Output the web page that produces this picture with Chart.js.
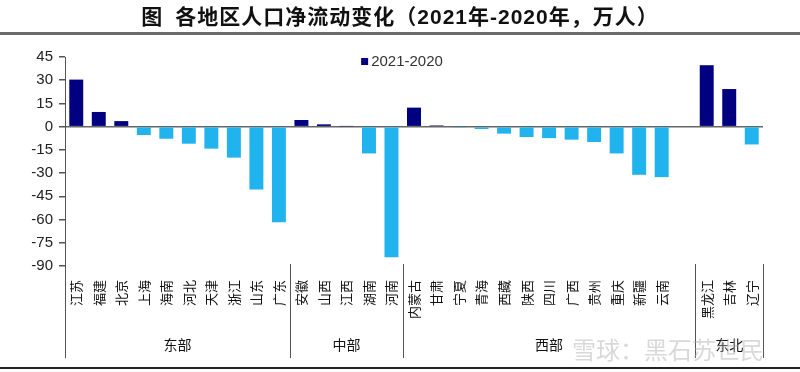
<!DOCTYPE html>
<html>
<head>
<meta charset="utf-8">
<script src="https://cdn.jsdelivr.net/npm/chart.js@4/dist/chart.umd.min.js"></script>
<style>
  html, body { margin: 0; padding: 0; background: #fff; }
  #wrap { position: relative; width: 800px; height: 372px; overflow: hidden; }
  #title {
    position: absolute; left: 0; top: 2px; width: 800px; text-align: center;
    font-family: "Liberation Sans Narrow", "Liberation Sans", "Noto Sans CJK SC", sans-serif;
    font-weight: bold; font-size: 21px; line-height: 26px; color: #111; letter-spacing: 1px;
  }
  #title .cn { font-family: "Noto Sans CJK SC", sans-serif; }
  #title .gap { display: inline-block; width: 12px; }
  #topline { position: absolute; left: 0; top: 32px; width: 800px; height: 3px; background: #6b6b6b; }
  #bottomline { position: absolute; left: 0; top: 367px; width: 800px; height: 2px; background: #222; }
  #mark {
    position: absolute; left: 572px; top: 331px; font-size: 24px;
    font-family: "Noto Sans CJK SC", sans-serif; color: rgba(170,170,170,0.45);
  }
  #box { position: absolute; left: 0; top: 0; width: 800px; height: 372px; }
</style>
</head>
<body>
<div id="wrap">
  <div id="box"><canvas id="flow-chart"></canvas></div>
  <div id="title"><span class="cn">图<span class="gap"></span>各地区人口净流动变化（</span>2021<span class="cn">年</span>-2020<span class="cn">年，万人）</span></div>
  <div id="topline"></div>
  <div id="mark">雪球：黑石苏世民</div>
  <div id="bottomline"></div>
</div>
<script>
// 지역 이름 (빈 칸은 서부와 동북 사이 간격)
const regions = ["江苏", "福建", "北京", "上海", "海南", "河北", "天津", "浙江", "山东", "广东",
  "安徽", "山西", "江西", "湖南", "河南",
  "内蒙古", "甘肃", "宁夏", "青海", "西藏", "陕西", "四川", "广西", "贵州", "重庆", "新疆", "云南", "",
  "黑龙江", "吉林", "辽宁"];

// 2021-2020 순유입 (만명)
const netFlow = [30.4, 9.5, 3.6, -5.4, -7.8, -11, -14.2, -20, -40.6, -61.7,
  4.3, 1.5, 0.3, -17.3, -84.3,
  12.3, 0.8, -0.3, -1.5, -4.5, -6.7, -7.4, -8.4, -9.9, -17.3, -31.1, -32.6, null,
  39.7, 24.3, -11.5];

const seriesName = "2021-2020";

// 권역 구분
const groupNames = ["东部", "中部", "西部", "东北"];
const groupSizes = [10, 5, 13, 3];

// y축 눈금
const yMin = -90;
const yMax = 45;
const yStep = 15;

const POS_COLOR = "#000080";
const NEG_COLOR = "#21b3ee";
const CJK = '"Noto Sans CJK SC", sans-serif';

// 권역 구분선과 이름, 범례 그리기
const groupPlugin = {
  id: "groups",
  afterDraw(chart) {
    const { ctx, chartArea } = chart;
    const x = chart.scales.x;
    const half = (x.getPixelForValue(1) - x.getPixelForValue(0)) / 2;
    const lineBottom = 358;

    ctx.save();
    ctx.strokeStyle = "#555";
    ctx.lineWidth = 1;
    let start = 0;
    const edges = [0];
    groupSizes.forEach((n) => {
      start += n;
      edges.push(start);
    });
    edges.forEach((idx) => {
      const px = Math.round(x.getPixelForValue(idx) - half) + 0.5;
      ctx.beginPath();
      ctx.moveTo(px, chartArea.bottom - 2);
      ctx.lineTo(px, lineBottom);
      ctx.stroke();
    });

    ctx.fillStyle = "#111";
    ctx.font = "14px " + CJK;
    ctx.textAlign = "center";
    ctx.textBaseline = "middle";
    groupNames.forEach((name, i) => {
      const left = x.getPixelForValue(edges[i]) - half;
      const right = x.getPixelForValue(edges[i + 1]) - half;
      ctx.fillText(name, (left + right) / 2, 345);
    });

    // 범례
    ctx.font = "15px 'Liberation Sans', Arial, sans-serif";
    const tw = ctx.measureText(seriesName).width;
    const lx = (chartArea.left + chartArea.right) / 2 - (tw + 10) / 2 - 12;
    const ly = chartArea.top + 4;
    ctx.fillStyle = POS_COLOR;
    ctx.fillRect(lx, ly - 3, 7, 7);
    ctx.fillStyle = "#333";
    ctx.textAlign = "left";
    ctx.fillText(seriesName, lx + 10, ly + 1);
    ctx.restore();
  },
};

function renderFlowChart() {
  const ctx = document.getElementById("flow-chart");

  window.flowChart = new Chart(ctx, {
    type: "bar",
    data: {
      labels: regions,
      datasets: [
        {
          label: seriesName,
          data: netFlow,
          backgroundColor: netFlow.map((v) => (v >= 0 ? POS_COLOR : NEG_COLOR)),
          borderWidth: 0,
          barPercentage: 0.62,
          categoryPercentage: 1,
        },
      ],
    },
    options: {
      responsive: true,
      maintainAspectRatio: false,
      animation: false,
      layout: {
        padding: { top: 57, right: 37, bottom: 0, left: 0 },
      },
      scales: {
        x: {
          grid: { display: false, drawTicks: false },
          border: { display: false },
          ticks: {
            autoSkip: false,
            maxRotation: 90,
            minRotation: 90,
            padding: 14,
            color: "#111",
            font: { family: CJK, size: 13 },
          },
          afterFit: (scale) => {
            scale.height = 106;
          },
        },
        y: {
          min: yMin,
          max: yMax,
          ticks: {
            stepSize: yStep,
            padding: 6,
            color: "#222",
            font: { family: "'Liberation Sans', Arial, sans-serif", size: 15 },
          },
          grid: {
            color: (c) => (c.tick && c.tick.value === 0 ? "#666" : "transparent"),
            tickColor: "#555",
            tickLength: 6,
            lineWidth: 1.5,
          },
          border: { display: true, color: "#555" },
          afterFit: (scale) => {
            scale.width = 65;
          },
        },
      },
      plugins: {
        legend: { display: false },
        tooltip: { enabled: false },
      },
    },
    plugins: [groupPlugin],
  });
}

renderFlowChart();
</script>
</body>
</html>
